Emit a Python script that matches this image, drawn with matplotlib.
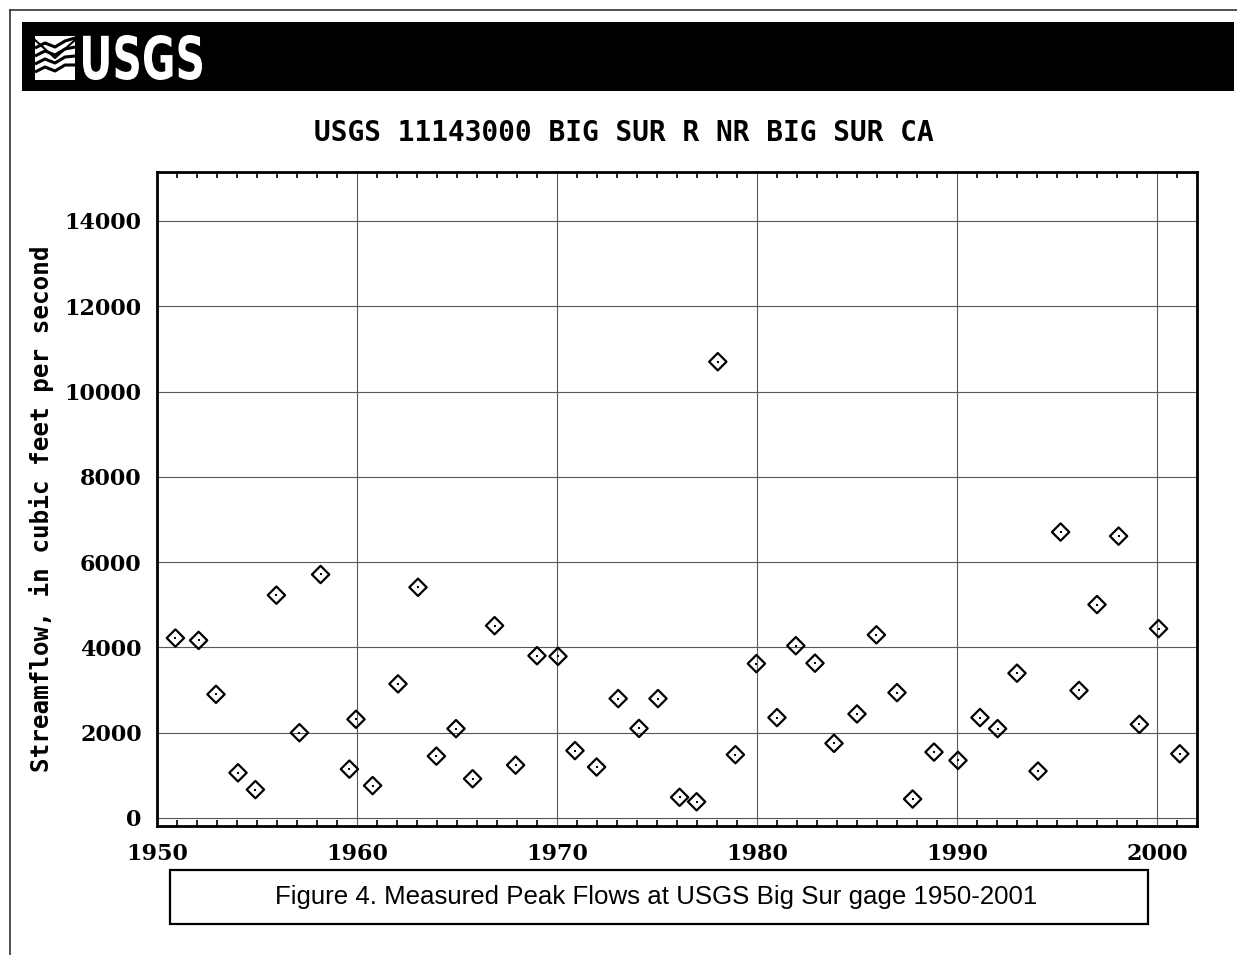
"""Peak flows at USGS gage 11143000, Big Sur River near Big Sur, CA."""
import matplotlib
matplotlib.use('Agg')
import matplotlib.pyplot as plt
from matplotlib.patches import Rectangle, PathPatch
from matplotlib.textpath import TextPath
from matplotlib.font_manager import FontProperties
from matplotlib.transforms import Affine2D
from matplotlib.ticker import MultipleLocator

# peak flow dates (decimal year) and discharge, cfs
years = [1950.92, 1952.08, 1952.95, 1954.05, 1954.92, 1955.97, 1957.12, 1958.18,
         1959.62, 1959.95, 1960.78, 1962.05, 1963.05, 1963.97, 1964.95, 1965.78,
         1966.88, 1967.93, 1969.00, 1970.05, 1970.90, 1971.98, 1973.06, 1974.10,
         1975.05, 1976.13, 1976.98, 1978.04, 1978.92, 1979.97, 1981.00, 1981.94,
         1982.90, 1983.85, 1985.00, 1985.97, 1987.00, 1987.78, 1988.85, 1990.05,
         1991.15, 1992.03, 1993.00, 1994.05, 1995.18, 1996.10, 1997.00, 1998.08,
         1999.12, 2000.08, 2001.14]
peaks = [4220, 4165, 2900, 1060, 665, 5225, 2000, 5710, 1145, 2315, 760, 3145,
         5410, 1450, 2095, 920, 4510, 1240, 3805, 3790, 1580, 1195, 2800, 2100,
         2800, 485, 380, 10700, 1485, 3620, 2355, 4040, 3630, 1750, 2440, 4295,
         2940, 445, 1545, 1350, 2355, 2095, 3395, 1100, 6705, 2990, 5005, 6610,
         2195, 4440, 1505]

xticks = [1950, 1960, 1970, 1980, 1990, 2000]
yticks = [0, 2000, 4000, 6000, 8000, 10000, 12000, 14000]

title = 'USGS 11143000 BIG SUR R NR BIG SUR CA'
ylabel = 'Streamflow, in cubic feet per second'
caption = 'Figure 4. Measured Peak Flows at USGS Big Sur gage 1950-2001'

W, H = 1237, 955
fig = plt.figure(figsize=(W / 100, H / 100), dpi=100)

# page decorations drawn in pixel coords
bg = fig.add_axes([0, 0, 1, 1])
bg.set_xlim(0, W)
bg.set_ylim(H, 0)
bg.axis('off')
bg.plot([10, W], [10, 10], color='0.2', lw=1.2)
bg.plot([10, 10], [10, H], color='0.2', lw=1.2)
bg.add_patch(Rectangle((22, 22), 1212, 69, facecolor='black', edgecolor='none'))

# logo text, squeezed into its box
tp = TextPath((0, 0), 'USGS', size=100, prop=FontProperties(family='DejaVu Sans', weight='bold'))
ext = tp.get_extents()
sx = 119 / ext.width
sy = 45 / ext.height
tr = Affine2D().translate(-ext.x0, -ext.y0).scale(sx, -sy).translate(83, 80)
bg.add_patch(PathPatch(tr.transform_path(tp), facecolor='white', edgecolor='none'))

# wave mark next to the logo
bg.add_patch(Rectangle((35, 36), 40, 44, facecolor='white', edgecolor='none'))
for k, y0 in enumerate([44, 52, 60, 68]):
    xs = [35, 45, 55, 65, 75]
    ys = [y0 + 4, y0 - 1, y0 + 3, y0 - 3, y0 - 6 + k]
    bg.plot(xs, ys, color='black', lw=2.2, solid_capstyle='butt')
bg.plot([35, 55, 75], [40, 58, 40], color='black', lw=1.5)

bg.add_patch(Rectangle((170, 870), 978, 54, facecolor='white', edgecolor='black', lw=1.6))
bg.text(656, 897, caption, fontsize=18.6, family='Liberation Sans', ha='center', va='center')

fig.text(624 / W, 1 - 133 / H, title, fontsize=20, family='DejaVu Sans Mono',
         weight='bold', ha='center', va='center')
fig.text(42 / W, 1 - 509 / H, ylabel, fontsize=17.5, family='DejaVu Sans Mono',
         weight='bold', rotation=90, ha='center', va='center')

ax = fig.add_axes([157 / W, 1 - 826 / H, 1040 / W, 654 / H])
ax.scatter(years, peaks, marker='D', s=78, facecolors='none', edgecolors='black',
           linewidths=1.6, zorder=3)
ax.scatter(years, peaks, marker='s', s=4, color='black', linewidths=0, zorder=4)

ax.set_xlim(1950, 2002)
ax.set_ylim(-188, 15149)
ax.set_xticks(xticks)
ax.set_yticks(yticks)
ax.xaxis.set_minor_locator(MultipleLocator(1))
ax.grid(True, which='major', color='0.35', lw=0.8)
ax.set_axisbelow(True)
ax.tick_params(which='major', length=0)
ax.tick_params(which='minor', direction='in', length=4, width=1.2, top=True, bottom=True)
for lab in ax.get_xticklabels() + ax.get_yticklabels():
    lab.set_family('DejaVu Serif')
    lab.set_fontweight('bold')
    lab.set_fontsize(16)
ax.tick_params(axis='x', pad=12)
ax.tick_params(axis='y', pad=11)
for sp in ax.spines.values():
    sp.set_linewidth(2)

fig.savefig('out.png', dpi=100)
